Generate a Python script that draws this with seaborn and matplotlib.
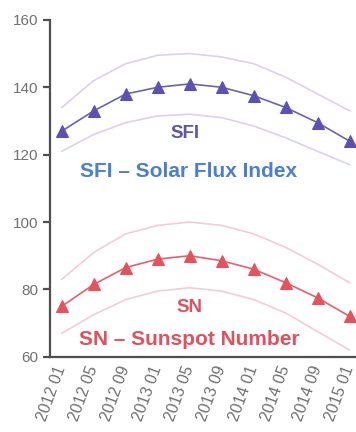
import numpy as np
import pandas as pd
import seaborn as sns
import matplotlib.pyplot as plt

# =========================
# Data
# =========================
months = ["2012 01", "2012 05", "2012 09", "2013 01", "2013 05",
          "2013 09", "2014 01", "2014 05", "2014 09", "2015 01"]

sfi = [127, 133, 138, 140, 141, 140, 137.5, 134, 129.5, 124]
sfi_upper = [134, 142, 147, 149.5, 150, 149, 147, 143, 138, 133]
sfi_lower = [121, 126, 129.5, 131.5, 132, 131, 128.5, 125, 121, 117]

sn = [75, 81.5, 86.5, 89, 90, 88.5, 86, 82, 77.5, 72]
sn_upper = [83, 91, 96.5, 99, 100, 99, 96.5, 92.5, 87.5, 82]
sn_lower = [67, 72.5, 77, 79.5, 80.5, 79.5, 77, 73, 67.5, 62]

y_ticks = [60, 80, 100, 120, 140, 160]

# =========================
# Plot
# =========================
sns.set_style("white")
plt.rcParams["font.family"] = ["Liberation Sans", "DejaVu Sans"]

df = pd.DataFrame({
    "idx": np.arange(len(months)),
    "sfi": sfi, "sfi_upper": sfi_upper, "sfi_lower": sfi_lower,
    "sn": sn, "sn_upper": sn_upper, "sn_lower": sn_lower,
})

fig = plt.figure(figsize=(3.56, 4.32), dpi=100)
ax = fig.add_axes([0.1404, 0.174, 0.8596, 0.780])

env_sfi = "#ddd0ea"
env_sn = "#f3ccd5"
for col, c in [("sfi_upper", env_sfi), ("sfi_lower", env_sfi),
               ("sn_upper", env_sn), ("sn_lower", env_sn)]:
    sns.lineplot(data=df, x="idx", y=col, color=c, lw=1.2, ax=ax)

sns.lineplot(data=df, x="idx", y="sfi", color="#6a64a8", lw=1.2,
             marker="^", markersize=8, markerfacecolor="#5b50b8",
             markeredgecolor="#5b50b8", ax=ax)
sns.lineplot(data=df, x="idx", y="sn", color="#e8606a", lw=1.2,
             marker="^", markersize=8, markerfacecolor="#e8505c",
             markeredgecolor="#e8505c", ax=ax)

ax.text(3.85, 126.4, "SFI", color="#5a56b0", fontsize=13.5,
        fontweight="bold", ha="center", va="center")
ax.text(3.96, 115, "SFI \u2013 Solar Flux Index", color="#4a7fd0",
        fontsize=15, fontweight="bold", ha="center", va="center")
ax.text(4.0, 74.7, "SN", color="#e0505e", fontsize=13.5,
        fontweight="bold", ha="center", va="center")
ax.text(4.0, 65, "SN \u2013 Sunspot Number", color="#e0505e",
        fontsize=15, fontweight="bold", ha="center", va="center")

ax.set_xlim(-0.37, 9.2)
ax.set_ylim(60, 160)
ax.set_xticks(range(len(months)))
ax.set_xticklabels(months, rotation=70, ha="right", va="center",
                   rotation_mode="anchor")
ax.set_yticks(y_ticks)
ax.set_xlabel("")
ax.set_ylabel("")

for s in ["top", "right"]:
    ax.spines[s].set_visible(False)
for s in ["left", "bottom"]:
    ax.spines[s].set_color("#505050")
    ax.spines[s].set_linewidth(1.6)
ax.tick_params(axis="y", length=5, width=1.6, color="#505050",
               labelsize=11, labelcolor="#707070", direction="out", left=True)
ax.tick_params(axis="x", length=0, labelsize=11.5, labelcolor="#707070", pad=7)

fig.savefig("out.png", dpi=100)
